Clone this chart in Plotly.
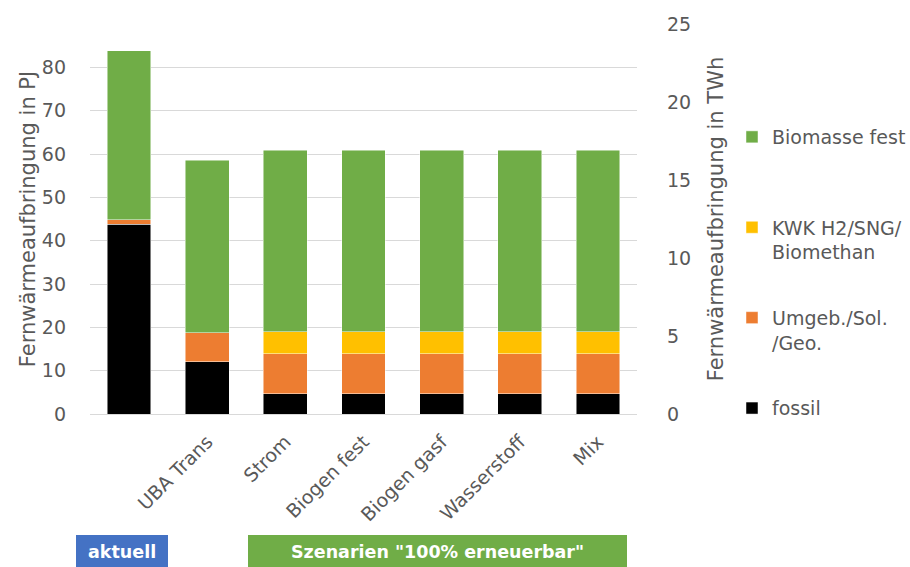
import plotly.graph_objects as go

categories = ["", "UBA Trans", "Strom", "Biogen fest", "Biogen gasf", "Wasserstoff", "Mix"]
fossil = [43.8, 12.1, 4.7, 4.7, 4.7, 4.7, 4.7]
umgeb = [1.0, 6.6, 9.2, 9.2, 9.2, 9.2, 9.2]
kwk = [0.0, 0.0, 5.1, 5.1, 5.1, 5.1, 5.1]
biomasse = [39.0, 39.9, 41.9, 41.9, 41.9, 41.9, 41.9]

series_names = ["fossil", "Umgeb./Sol.<br>/Geo.", "KWK H2/SNG/<br>Biomethan", "Biomasse fest<br> "]
series_values = [fossil, umgeb, kwk, biomasse]
series_colors = ["#000000", "#ED7D31", "#FFC000", "#70AD47"]

left_ticks = [0, 10, 20, 30, 40, 50, 60, 70, 80]
right_ticks = [0, 5, 10, 15, 20, 25]
PJ_PER_TWH = 3.6

FONT = "DejaVu Sans"
GRAY = "#595959"
x = list(range(len(categories)))

fig = go.Figure()
n = len(series_names)
for i, (name, vals, col) in enumerate(zip(series_names, series_values, series_colors)):
    fig.add_trace(go.Bar(
        x=x, y=vals, name=name, marker_color=col,
        marker_line=dict(color="rgba(255,255,255,0.6)", width=0.8),
        legendgroup=name, legendrank=n - i,
    ))
# invisible trace on right axis to activate it
fig.add_trace(go.Scatter(x=[x[0]], y=[0], yaxis="y2", mode="markers",
                         marker=dict(opacity=0), showlegend=False, hoverinfo="skip"))

W, H = 910, 567
L, R, T, B = 90, 637, 24, 414
pw, ph = R - L, B - T

fig.update_layout(
    width=W, height=H,
    margin=dict(l=L, r=W - R, t=T, b=H - B, autoexpand=False),
    barmode="stack", bargap=0.44,
    plot_bgcolor="white", paper_bgcolor="white",
    font=dict(family=FONT, size=19, color=GRAY),
    xaxis=dict(tickvals=x, ticktext=categories, tickangle=-45,
               range=[-0.5, len(categories) - 0.5], automargin=False,
               showgrid=False, zeroline=False, showline=False,
               ticks="", ticklabelstandoff=12, tickfont=dict(size=19, color=GRAY)),
    yaxis=dict(range=[0, 90], tickvals=left_ticks, showgrid=True, automargin=False,
               gridcolor="#d9d9d9", gridwidth=1, zeroline=True,
               zerolinecolor="#d9d9d9", zerolinewidth=1.3,
               ticklabelstandoff=23,
               title=dict(text="Fernwärmeaufbringung in PJ", font=dict(size=21, color=GRAY), standoff=0)),
    yaxis2=dict(range=[0, 90 / PJ_PER_TWH], tickvals=right_ticks, overlaying="y",
                side="right", showgrid=False, zeroline=False, automargin=False,
                ticklabelstandoff=29,
                title=dict(text="Fernwärmeaufbringung in TWh", font=dict(size=21, color=GRAY), standoff=18)),
    legend=dict(xref="container", yref="container", x=732 / W, y=1 - 118 / H,
                xanchor="left", yanchor="top", maxheight=1000,
                traceorder="grouped", tracegroupgap=38, valign="top",
                font=dict(size=19, color=GRAY), bgcolor="rgba(0,0,0,0)"),
    showlegend=True,
)

boxes = [("aktuell", 76, 168, "#4472C4"), ('Szenarien "100% erneuerbar"', 248, 627, "#70AD47")]
for text, x0, x1, col in boxes:
    fig.add_shape(type="rect", xref="paper", yref="paper", layer="below",
                  x0=(x0 - L) / pw, x1=(x1 - L) / pw,
                  y0=(B - 567) / ph, y1=(B - 535) / ph,
                  fillcolor=col, line=dict(width=0))
    fig.add_annotation(xref="paper", yref="paper", x=((x0 + x1) / 2 - L) / pw,
                       y=(B - 552) / ph, xanchor="center", yanchor="middle",
                       text=f"<b>{text}</b>", showarrow=False,
                       font=dict(size=17.5, color="white", family=FONT))

fig.write_html("out.html")
